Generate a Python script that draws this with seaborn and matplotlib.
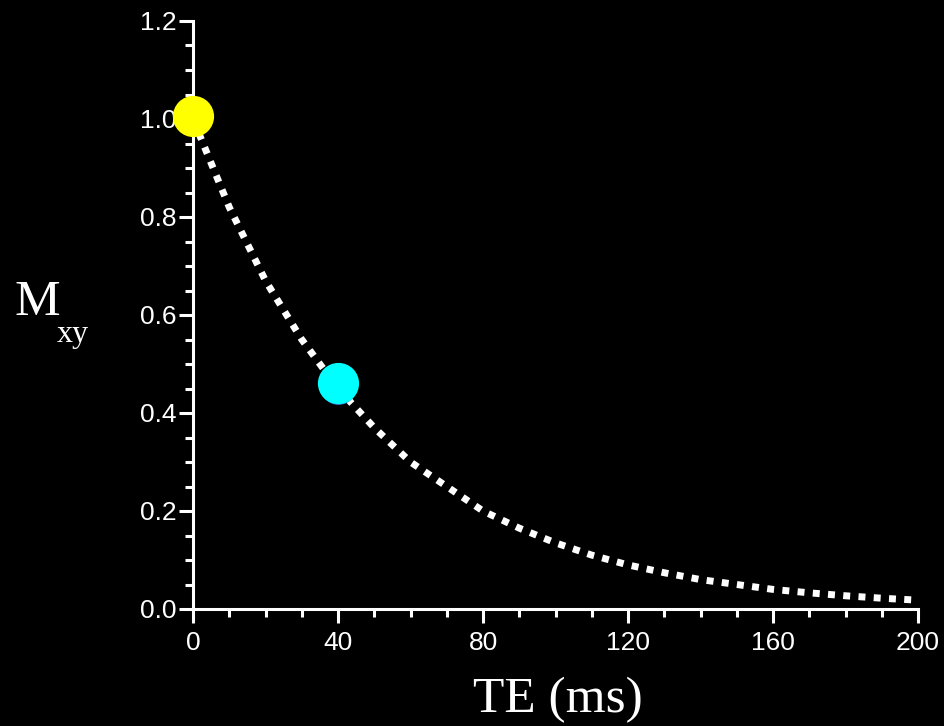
import numpy as np
import pandas as pd
import matplotlib
matplotlib.use("Agg")
import matplotlib.pyplot as plt
import seaborn as sns
from matplotlib.ticker import MultipleLocator

# data
te = [0, 10, 20, 30, 40, 50, 60, 70, 80, 90, 100, 110, 120, 130, 140, 150, 160, 170, 180, 190, 200]
mxy = [1.0, 0.82, 0.67, 0.55, 0.45, 0.37, 0.30, 0.25, 0.20, 0.165, 0.135, 0.11, 0.09,
       0.074, 0.06, 0.05, 0.04, 0.033, 0.027, 0.022, 0.018]
pt_te = [0, 40]
pt_m = [1.006, 0.461]
pt_colors = ["#ffff00", "#00ffff"]
xticks = [0, 40, 80, 120, 160, 200]
yticks = [0.0, 0.2, 0.4, 0.6, 0.8, 1.0, 1.2]

sns.set_style("dark")
plt.rcParams["font.family"] = ["Liberation Sans Narrow", "Liberation Sans", "DejaVu Sans"]

fig = plt.figure(figsize=(9.44, 7.26), dpi=100, facecolor="black")
ax = fig.add_axes([193/944, 117/726, (918-193)/944, (609-21)/726])
ax.set_facecolor("black")

df = pd.DataFrame({"TE": te, "M": mxy})
sns.lineplot(data=df, x="TE", y="M", ax=ax, color="white", lw=5,
             linestyle=(0, (1.0, 1.2)), dash_capstyle="butt")

# faint blue under the cyan point
ax.scatter([pt_te[1]], [pt_m[1] - 0.006], s=700, color="#3a7bd5", zorder=4, clip_on=False, linewidths=0)
for x, y, c in zip(pt_te, pt_m, pt_colors):
    ax.scatter([x], [y], s=880, color=c, zorder=5, clip_on=False, linewidths=0)

ax.set_xlim(0, 200)
ax.set_ylim(0, 1.2)
ax.set_xticks(xticks)
ax.set_yticks(yticks)
ax.set_xticklabels([str(v) for v in xticks])
ax.set_yticklabels([f"{v:.1f}" for v in yticks])
ax.xaxis.set_minor_locator(MultipleLocator(10))
ax.yaxis.set_minor_locator(MultipleLocator(0.05))
ax.grid(False)
for s in ["top", "right"]:
    ax.spines[s].set_visible(False)
for s in ["left", "bottom"]:
    ax.spines[s].set_color("white")
    ax.spines[s].set_linewidth(2.2)
ax.tick_params(axis="both", which="both", bottom=True, left=True, top=False, right=False)
ax.tick_params(axis="both", which="major", colors="white", width=2.2, length=10, labelsize=19, direction="out")
ax.tick_params(axis="both", which="minor", colors="white", width=2.2, length=5.5, direction="out")
ax.tick_params(axis="x", which="major", pad=6)
ax.tick_params(axis="y", which="major", pad=2)
ax.set_xlabel("")
ax.set_ylabel("")

fig.text(558/944, 1 - 712/726, "TE (ms)", color="white", fontsize=37,
         family=["Liberation Serif", "DejaVu Serif"], ha="center", va="baseline")
fig.text(14/944, 1 - 315/726, "M", color="white", fontsize=37,
         family=["Liberation Serif", "DejaVu Serif"], ha="left", va="baseline")
fig.text(57/944, 1 - 342/726, "xy", color="white", fontsize=23,
         family=["Liberation Serif", "DejaVu Serif"], ha="left", va="baseline")

fig.savefig("out.png", dpi=100, facecolor="black")
